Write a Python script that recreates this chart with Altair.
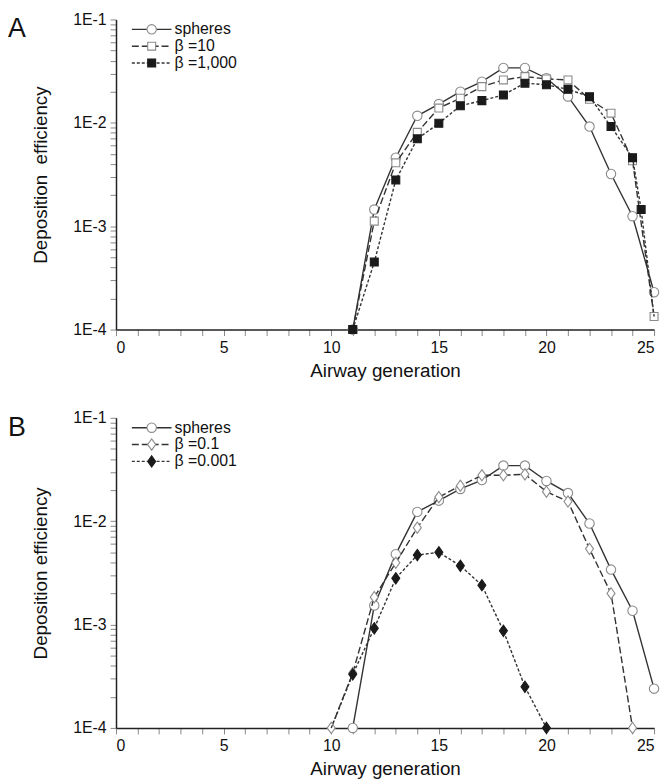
import altair as alt
import pandas as pd

FONT = "Liberation Sans"
LINE = "#333333"
OPEN_STROKE = "#8a8a8a"
FILLED = "#1a1a1a"

# ---------------- Panel A data ----------------
gen_spheres_a = list(range(11, 26))
spheres_a = [1.0e-4, 1.45e-3, 4.6e-3, 1.17e-2, 1.52e-2, 2.0e-2, 2.5e-2, 3.4e-2,
             3.4e-2, 2.7e-2, 1.8e-2, 9.2e-3, 3.2e-3, 1.25e-3, 2.3e-4]

gen_beta10_a = list(range(11, 26))
beta10_a = [1.0e-4, 1.12e-3, 4.1e-3, 8.1e-3, 1.39e-2, 1.73e-2, 2.24e-2, 2.6e-2,
            2.8e-2, 2.66e-2, 2.6e-2, 1.69e-2, 1.24e-2, 4.3e-3, 1.34e-4]

gen_beta1000_a = [11, 12, 13, 14, 15, 16, 17, 18, 19, 20, 21, 22, 23, 24, 24.4, 25]
beta1000_a = [1.0e-4, 4.5e-4, 2.8e-3, 7.0e-3, 9.9e-3, 1.46e-2, 1.64e-2, 1.86e-2,
              2.42e-2, 2.33e-2, 2.11e-2, 1.79e-2, 9.2e-3, 4.6e-3, 1.45e-3, 1.34e-4]
marker_beta1000_a = [True] * 15 + [False]

# ---------------- Panel B data ----------------
gen_spheres_b = list(range(11, 26))
spheres_b = [1.0e-4, 1.53e-3, 4.8e-3, 1.23e-2, 1.58e-2, 2.05e-2, 2.5e-2, 3.45e-2,
             3.45e-2, 2.45e-2, 1.87e-2, 9.5e-3, 3.4e-3, 1.36e-3, 2.4e-4]

gen_beta01_b = list(range(10, 25))
beta01_b = [1.0e-4, 3.4e-4, 1.84e-3, 3.96e-3, 8.65e-3, 1.71e-2, 2.2e-2, 2.78e-2,
            2.78e-2, 2.84e-2, 1.93e-2, 1.55e-2, 5.4e-3, 2.0e-3, 1.0e-4]

gen_beta0001_b = list(range(10, 21))
beta0001_b = [1.0e-4, 3.3e-4, 9.2e-4, 2.8e-3, 4.7e-3, 5.0e-3, 3.7e-3, 2.4e-3,
              8.7e-4, 2.5e-4, 1.0e-4]
marker_beta0001_b = [False] + [True] * 10

# tick values
x_ticks = list(range(0, 26))
y_ticks = [m * 10.0 ** e for e in (-4, -3, -2) for m in range(1, 10)] + [1e-1]

W, H = 543, 313

x_axis = alt.Axis(values=x_ticks, labelExpr="datum.value % 5 == 0 ? datum.label : ''",
                  title="Airway generation", grid=False, tickSize=6, labelPadding=4,
                  titlePadding=6)
y_label_expr = ("abs(log(datum.value)/LN10 - round(log(datum.value)/LN10)) < 0.001 ? "
                "'1E' + round(log(datum.value)/LN10) : ''")


def y_axis(title):
    return alt.Axis(values=y_ticks, labelExpr=y_label_expr, title=title, grid=False,
                    tickSize=6, labelPadding=4, titlePadding=22)


def series_layers(gens, vals, markers, dash, shape, fill, stroke, size, ytitle):
    df = pd.DataFrame({"gen": gens, "value": vals,
                       "mk": markers if markers is not None else [True] * len(gens)})
    x_enc = alt.X("gen:Q", scale=alt.Scale(domain=[0, 25], nice=False, zero=False), axis=x_axis)
    y_enc = alt.Y("value:Q", scale=alt.Scale(type="log", domain=[1e-4, 1e-1], nice=False),
                  axis=y_axis(ytitle))
    line_kw = dict(color=LINE, strokeWidth=1.4, clip=False)
    if dash:
        line_kw["strokeDash"] = dash
    line = alt.Chart(df).mark_line(**line_kw).encode(x=x_enc, y=y_enc)
    pts = alt.Chart(df).transform_filter("datum.mk").mark_point(
        shape=shape, size=size, filled=True, fill=fill, stroke=stroke,
        strokeWidth=1.1, opacity=1, clip=False).encode(x=x_enc, y=y_enc)
    return [line, pts]


dummy = pd.DataFrame({"a": [0]})


def legend_item(yoff, label, dash, shape, fill, stroke, size):
    rk = dict(color=LINE, strokeWidth=1.4)
    if dash:
        rk["strokeDash"] = dash
    r = alt.Chart(dummy).mark_rule(**rk).encode(
        x=alt.value(16), x2=alt.value(56), y=alt.value(yoff))
    p = alt.Chart(dummy).mark_point(shape=shape, size=size, filled=True, fill=fill,
                                    stroke=stroke, strokeWidth=1.1, opacity=1).encode(
        x=alt.value(36), y=alt.value(yoff))
    t = alt.Chart(dummy).mark_text(align="left", baseline="middle", fontSize=16,
                                   font=FONT, color="#111").encode(
        x=alt.value(59), y=alt.value(yoff), text=alt.value(label))
    return [r, p, t]


def letter(ch):
    return alt.Chart(dummy).mark_text(align="left", baseline="middle", fontSize=27,
                                      font=FONT, color="#111").encode(
        x=alt.value(-109), y=alt.value(10), text=alt.value(ch))


DIAMOND = "M0,-1.2L0.85,0L0,1.2L-0.85,0Z"

# Panel A
ytitle_a = "Deposition\u00a0 efficiency"
layers_a = []
layers_a += series_layers(gen_spheres_a, spheres_a, None, None, "circle", "white", OPEN_STROKE, 90, ytitle_a)
layers_a += series_layers(gen_beta10_a, beta10_a, None, [7, 3], "square", "white", OPEN_STROKE, 64, ytitle_a)
layers_a += series_layers(gen_beta1000_a, beta1000_a, marker_beta1000_a, [3, 2], "square", FILLED, FILLED, 64, ytitle_a)
layers_a += legend_item(10, "spheres", None, "circle", "white", OPEN_STROKE, 90)
layers_a += legend_item(27, "\u03b2 =10", [7, 3], "square", "white", OPEN_STROKE, 64)
layers_a += legend_item(44, "\u03b2 =1,000", [3, 2], "square", FILLED, FILLED, 64)
layers_a.append(letter("A"))
panel_a = alt.layer(*layers_a).properties(width=W, height=H)

# Panel B
ytitle_b = "Deposition efficiency"
layers_b = []
layers_b += series_layers(gen_spheres_b, spheres_b, None, None, "circle", "white", OPEN_STROKE, 90, ytitle_b)
layers_b += series_layers(gen_beta01_b, beta01_b, None, [7, 3], DIAMOND, "white", OPEN_STROKE, 90, ytitle_b)
layers_b += series_layers(gen_beta0001_b, beta0001_b, marker_beta0001_b, [3, 2], DIAMOND, FILLED, FILLED, 90, ytitle_b)
layers_b += legend_item(10, "spheres", None, "circle", "white", OPEN_STROKE, 90)
layers_b += legend_item(27, "\u03b2 =0.1", [7, 3], DIAMOND, "white", OPEN_STROKE, 90)
layers_b += legend_item(44, "\u03b2 =0.001", [3, 2], DIAMOND, FILLED, FILLED, 90)
layers_b.append(letter("B"))
panel_b = alt.layer(*layers_b).properties(width=W, height=H)

chart = alt.vconcat(panel_a, panel_b, spacing=30).properties(
    padding={"left": 0, "right": 0, "top": 0, "bottom": 0}
).configure_view(stroke=None).configure_axis(
    labelFont=FONT, titleFont=FONT, labelFontSize=16, titleFontSize=19,
    labelColor="#111", titleColor="#111", titleFontWeight="normal",
    domainColor="#222", domainWidth=1.5, tickColor="#888", tickWidth=1,
)

chart.save("out.html", embed_options={"renderer": "svg", "actions": False})
